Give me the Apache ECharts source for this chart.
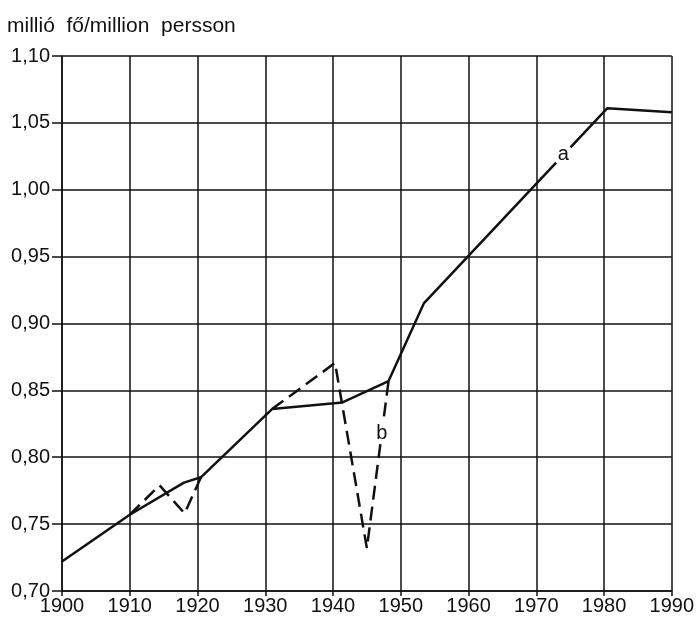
<!DOCTYPE html>
<html>
<head>
<meta charset="utf-8">
<script src="https://cdn.jsdelivr.net/npm/echarts@6/dist/echarts.min.js"></script>
<style>
  html, body { margin: 0; padding: 0; background: #fff; }
  #main { width: 697px; height: 619px; }
</style>
</head>
<body>
<div id="main"></div>
<script>
// line a (solid)
var yearsA = [1900, 1910, 1918, 1920.5, 1931, 1941.4, 1948.2, 1953.4, 1980.5, 1990];
var valuesA = [0.722, 0.757, 0.781, 0.785, 0.836, 0.841, 0.857, 0.915, 1.061, 1.058];
// line b (dashed), two pieces
var yearsB1 = [1910, 1914.4, 1918.1, 1920.5];
var valuesB1 = [0.757, 0.779, 0.758, 0.785];
var yearsB2 = [1931, 1940.3, 1945, 1948.2];
var valuesB2 = [0.836, 0.8705, 0.732, 0.857];
var labelA = [1974, 1.026];
var labelB = [1947.2, 0.818];

var font = '"Liberation Sans", Arial, sans-serif';

function pairs(xs, ys) {
  return xs.map(function (x, i) { return [x, ys[i]]; });
}

function tag(text, coord) {
  return {
    symbol: 'circle',
    symbolSize: 21,
    itemStyle: { color: '#fff' },
    label: { show: true, position: 'inside', color: '#111', fontSize: 20, fontFamily: font, formatter: text },
    data: [{ coord: coord }]
  };
}

var chartDom = document.getElementById('main');
var myChart = echarts.init(chartDom);
var option = {
  animation: false,
  title: {
    text: 'millió  fő/million  persson',
    left: 2,
    top: 11,
    textStyle: { fontSize: 21, fontWeight: 'normal', color: '#111', fontFamily: font }
  },
  grid: { left: 62, right: 20, top: 56, bottom: 28 },
  xAxis: {
    type: 'value',
    min: 1900,
    max: 1990,
    interval: 10,
    axisLine: { lineStyle: { color: '#111', width: 1.5 } },
    axisTick: { show: true, length: 5, lineStyle: { color: '#111', width: 1.5 } },
    splitLine: { show: true, lineStyle: { color: '#111', width: 1.5 } },
    axisLabel: {
      color: '#111', fontSize: 20, fontFamily: font, margin: 5,
      formatter: function (v) { return String(v); }
    }
  },
  yAxis: {
    type: 'value',
    min: 0.7,
    max: 1.1,
    interval: 0.05,
    axisLine: { show: true, lineStyle: { color: '#111', width: 1.5 } },
    axisTick: { show: true, length: 10, lineStyle: { color: '#111', width: 1.5 } },
    splitLine: { show: true, lineStyle: { color: '#111', width: 1.5 } },
    axisLabel: {
      color: '#111', fontSize: 20, fontFamily: font, margin: 12,
      formatter: function (v) { return v.toFixed(2).replace('.', ','); }
    }
  },
  series: [
    {
      type: 'line',
      data: pairs(yearsB1, valuesB1),
      symbol: 'none',
      lineStyle: { color: '#111', width: 2.5, type: [14, 7] }
    },
    {
      type: 'line',
      data: pairs(yearsB2, valuesB2),
      symbol: 'none',
      lineStyle: { color: '#111', width: 2.5, type: [14, 7] },
      markPoint: tag('b', labelB)
    },
    {
      type: 'line',
      data: pairs(yearsA, valuesA),
      symbol: 'none',
      lineStyle: { color: '#111', width: 2.5 },
      markPoint: tag('a', labelA),
      z: 3
    }
  ]
};
myChart.setOption(option);
</script>
</body>
</html>
